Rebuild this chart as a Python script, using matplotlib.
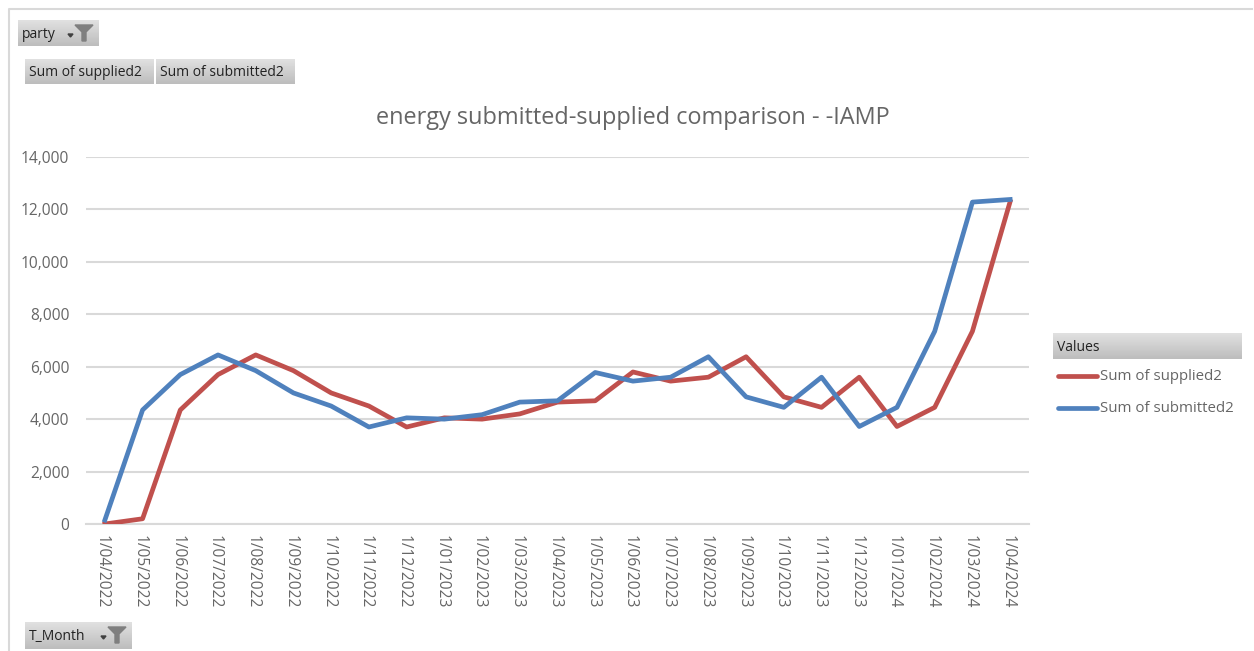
import numpy as np
import matplotlib
matplotlib.use('Agg')
from matplotlib import pyplot as plt
from matplotlib.patches import Polygon
from matplotlib.transforms import ScaledTranslation

months = ['1/04/2022', '1/05/2022', '1/06/2022', '1/07/2022', '1/08/2022',
          '1/09/2022', '1/10/2022', '1/11/2022', '1/12/2022', '1/01/2023',
          '1/02/2023', '1/03/2023', '1/04/2023', '1/05/2023', '1/06/2023',
          '1/07/2023', '1/08/2023', '1/09/2023', '1/10/2023', '1/11/2023',
          '1/12/2023', '1/01/2024', '1/02/2024', '1/03/2024', '1/04/2024']
supplied = [0, 200, 4350, 5700, 6450, 5850, 5000, 4500, 3700, 4050, 4000, 4200,
            4650, 4700, 5800, 5450, 5600, 6380, 4850, 4450, 5600, 3720, 4450,
            7350, 12300]
submitted = [150, 4350, 5700, 6450, 5850, 5000, 4500, 3700, 4050, 4000, 4170,
             4650, 4700, 5780, 5450, 5600, 6380, 4850, 4450, 5600, 3720, 4450,
             7350, 12280, 12380]
y_ticks = [0, 2000, 4000, 6000, 8000, 10000, 12000, 14000]

W, H = 1254, 651
plt.rcParams['font.family'] = ['Open Sans', 'DejaVu Sans']
fig = plt.figure(figsize=(W / 100, H / 100), dpi=100)

# overlay in pixel coordinates for the pivot chart buttons and the frame
page = fig.add_axes([0, 0, 1, 1], zorder=0)
page.set_xlim(0, W)
page.set_ylim(H, 0)
page.axis('off')
page.plot([9, 9, 1252], [H, 9, 9], color='#d9d9d9', lw=1.5)
grad = np.linspace(0.88, 0.74, 32).reshape(-1, 1)


def button(x0, y0, x1, y1, label, funnel=False, size=10):
    page.imshow(grad, extent=[x0, x1, y1, y0], cmap='gray', vmin=0, vmax=1,
                aspect='auto', zorder=1)
    page.text(x0 + 4, (y0 + y1) / 2 + 1.5, label, fontsize=size, color='#222222',
              va='center', ha='left', zorder=3)
    if funnel:
        fx = x1 - 15
        fy = y0 + 5
        page.add_patch(Polygon([(fx - 9, fy), (fx + 9, fy), (fx + 2, fy + 7),
                                (fx + 2, fy + 16), (fx - 2, fy + 16), (fx - 2, fy + 7)],
                               color='#7f7f7f', zorder=3))
        page.add_patch(Polygon([(fx - 16, fy + 9), (fx - 11, fy + 9), (fx - 13.5, fy + 12)],
                               color='#404040', zorder=3))


button(18, 20, 99, 46, 'party', funnel=True)
button(25, 59, 154, 84, 'Sum of supplied2')
button(156, 59, 295, 84, 'Sum of submitted2')
button(25, 622, 132, 649, 'T_Month', funnel=True)
button(1053, 333, 1242, 359, 'Values')
page.set_xlim(0, W)
page.set_ylim(H, 0)

page.text(633, 118.5, 'energy submitted-supplied comparison - -IAMP', fontsize=16.9,
          color='#666666', ha='center', va='center')

# main plot area
ax = fig.add_axes([86 / W, 1 - 524 / H, (1029 - 86) / W, (524 - 157) / H], zorder=2)
ax.patch.set_alpha(0)
x = np.arange(len(months))
line_sup, = ax.plot(x, supplied, color='#c0504d', lw=3.4, solid_joinstyle='round',
                    label='Sum of supplied2', zorder=3)
line_sub, = ax.plot(x, submitted, color='#4f81bd', lw=3.4, solid_joinstyle='round',
                    label='Sum of submitted2', zorder=4)
ax.set_xlim(-0.5, len(months) - 0.5)
ax.set_ylim(0, 14000)
ax.set_yticks(y_ticks)
ax.set_yticklabels([f'{v:,}' for v in y_ticks], fontsize=11.2, color='#666666')
ax.set_xticks(x)
ax.set_xticklabels(months, rotation=-90, fontsize=11.2, color='#666666')
ax.tick_params(length=0)
ax.tick_params(axis='x', pad=8)
ax.tick_params(axis='y', pad=12)
shift = ScaledTranslation(-3 / 100, 0, fig.dpi_scale_trans)
for lab in ax.get_xticklabels():
    lab.set_transform(lab.get_transform() + shift)
ax.grid(axis='y', color='#d9d9d9', lw=1.5)
ax.set_axisbelow(True)
for s in ['top', 'right', 'left']:
    ax.spines[s].set_visible(False)
ax.spines['bottom'].set_color('#d9d9d9')
ax.spines['bottom'].set_linewidth(1.5)

# legend by hand so the entries sit under the Values button
page.plot([1058, 1097], [376, 376], color='#c0504d', lw=3.4, solid_capstyle='round')
page.plot([1058, 1097], [408, 408], color='#4f81bd', lw=3.4, solid_capstyle='round')
page.text(1100, 377, 'Sum of supplied2', fontsize=10.8, color='#666666', va='center')
page.text(1100, 409, 'Sum of submitted2', fontsize=10.8, color='#666666', va='center')

fig.savefig('out.png', dpi=100)
